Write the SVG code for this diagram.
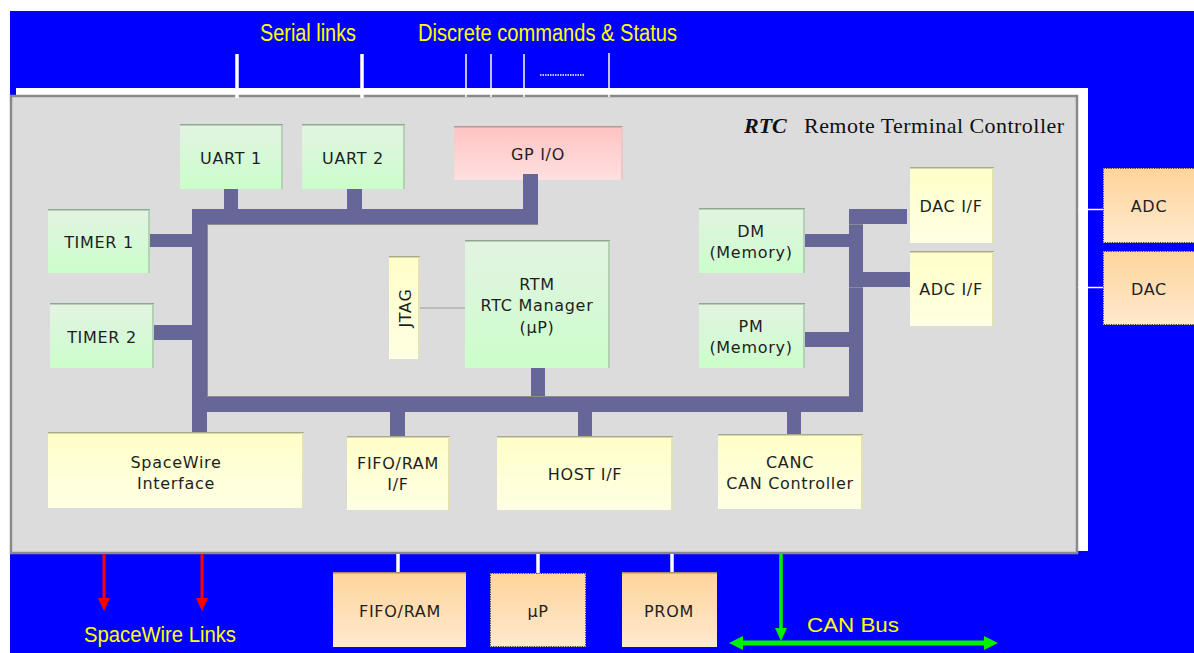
<svg xmlns="http://www.w3.org/2000/svg" width="1194" height="653" viewBox="0 0 1194 653">
  <defs>
    <linearGradient id="gG" x1="0" y1="0" x2="0" y2="1">
      <stop offset="0" stop-color="#E3F3E3"/>
      <stop offset="1" stop-color="#CBFECB"/>
    </linearGradient>
    <linearGradient id="gY" x1="0" y1="0" x2="0" y2="1">
      <stop offset="0" stop-color="#FFFFC8"/>
      <stop offset="1" stop-color="#FFFFE4"/>
    </linearGradient>
    <linearGradient id="gP" x1="0" y1="0" x2="0" y2="1">
      <stop offset="0" stop-color="#FFC2C2"/>
      <stop offset="1" stop-color="#FFE0E0"/>
    </linearGradient>
    <linearGradient id="gO" x1="0" y1="0" x2="0" y2="1">
      <stop offset="0" stop-color="#FFD49A"/>
      <stop offset="1" stop-color="#FFE9CE"/>
    </linearGradient>
    <marker id="arRed" markerUnits="userSpaceOnUse" markerWidth="14" markerHeight="12" refX="5" refY="6" orient="auto">
      <path d="M0,0 L13,6 L0,12 Z" fill="#FF0000"/>
    </marker>
    <marker id="arGreenV" markerUnits="userSpaceOnUse" markerWidth="14" markerHeight="12" refX="5" refY="6" orient="auto">
      <path d="M0,0 L13,6 L0,12 Z" fill="#00F000"/>
    </marker>
    <marker id="arGreenH" markerUnits="userSpaceOnUse" markerWidth="15" markerHeight="15" refX="6" refY="7" orient="auto-start-reverse">
      <path d="M0,0 L14,7 L0,14 Z" fill="#00F000"/>
    </marker>
    <style>
      .g{fill:url(#gG)}
      .y{fill:url(#gY)}
      .p{fill:url(#gP)}
      .o{fill:url(#gO)}
      .tg{stroke:#8FA88F;stroke-width:1.5;fill:none}
      .sg{stroke:#B3D2B3;stroke-width:2;fill:none}
      .ty{stroke:#ABAB8C;stroke-width:1.5;fill:none}
      .sy{stroke:#E2E2B4;stroke-width:2;fill:none}
      .tp{stroke:#B89A9A;stroke-width:1.5;fill:none}
      .sp{stroke:#EBC8C8;stroke-width:2;fill:none}
      .to{stroke:#A88C6C;stroke-width:1.5;fill:none}
      .dot{fill:none;stroke:#333;stroke-width:1;stroke-dasharray:1.2 1.2}
      .lbl{font-family:"DejaVu Sans",Verdana,sans-serif;font-size:16px;letter-spacing:0.7px;fill:#1E1E1E;text-anchor:middle}
      .yel{font-family:"Liberation Sans",Arial,sans-serif;fill:#FFFF00}
      .bus{fill:#666699}
      .bedge{stroke:#8C8C8C;stroke-width:1;fill:none}
      .wthick{stroke:#FFFFFF;stroke-width:3.5}
      .wthin{stroke:#FFFFFF;stroke-width:1.5}
    </style>
  </defs>

  <!-- background -->
  <rect x="0" y="0" width="1194" height="653" fill="#FFFFFF"/>
  <rect x="10" y="11" width="1184" height="642" fill="#0000FF"/>
  <rect x="16" y="88" width="1072" height="463" fill="#FFFFFF"/>
  <rect x="11" y="96" width="1066" height="457" fill="#DCDCDC" stroke="#8A8A8A" stroke-width="2.5"/>

  <!-- external labels -->
  <text class="yel" x="260" y="41" font-size="23" textLength="96" lengthAdjust="spacingAndGlyphs">Serial links</text>
  <text class="yel" x="418" y="41" font-size="23" textLength="259" lengthAdjust="spacingAndGlyphs">Discrete commands &amp; Status</text>
  <text class="yel" x="84" y="642" font-size="22" textLength="152" lengthAdjust="spacingAndGlyphs">SpaceWire Links</text>
  <text class="yel" x="807" y="632" font-size="21" textLength="92" lengthAdjust="spacingAndGlyphs">CAN Bus</text>

  <!-- title -->
  <text x="744" y="133" font-family="'Liberation Serif','Times New Roman',serif" font-size="22" fill="#111"><tspan font-weight="bold" font-style="italic">RTC</tspan></text>
  <text x="804" y="133" font-family="'Liberation Serif','Times New Roman',serif" font-size="22" fill="#111" textLength="260" lengthAdjust="spacing">Remote Terminal Controller</text>

  <!-- connectors -->
  <g id="connectors">
    <!-- top signal lines -->
    <line class="wthick" x1="237" y1="54" x2="237" y2="98"/>
    <line class="wthick" x1="362" y1="54" x2="362" y2="98"/>
    <line class="wthin" x1="466" y1="54" x2="466" y2="97"/>
    <line class="wthin" x1="491" y1="54" x2="491" y2="97"/>
    <line class="wthin" x1="524" y1="54" x2="524" y2="97"/>
    <line class="wthin" x1="609" y1="53" x2="609" y2="97"/>
    <line x1="540" y1="75" x2="584" y2="75" stroke="#FFFFFF" stroke-width="1.5" stroke-dasharray="1.5 1"/>
    <!-- ADC / DAC links -->
    <line class="wthin" x1="1078" y1="209.5" x2="1103" y2="209.5"/>
    <line class="wthin" x1="1078" y1="287.5" x2="1103" y2="287.5"/>
    <!-- bottom links -->
    <line class="wthick" x1="398" y1="554" x2="398" y2="573"/>
    <line class="wthick" x1="538" y1="554" x2="538" y2="574"/>
    <line class="wthick" x1="672" y1="554" x2="672" y2="573"/>
    <!-- SpaceWire links -->
    <line x1="104" y1="554" x2="104" y2="603" stroke="#FF0000" stroke-width="3" marker-end="url(#arRed)"/>
    <line x1="202" y1="554" x2="202" y2="603" stroke="#FF0000" stroke-width="3" marker-end="url(#arRed)"/>
    <!-- CAN bus -->
    <line x1="781" y1="554" x2="781" y2="633" stroke="#00F000" stroke-width="3.5" marker-end="url(#arGreenV)"/>
    <line x1="737" y1="643" x2="990" y2="643" stroke="#00F000" stroke-width="5" marker-start="url(#arGreenH)" marker-end="url(#arGreenH)"/>
    <!-- JTAG link -->
    <line x1="420" y1="308" x2="465" y2="308" stroke="#999999" stroke-width="1.2"/>

    <!-- internal bus -->
    <rect class="bus" x="192" y="209" width="346" height="15"/>
    <rect class="bus" x="523" y="174" width="15" height="50"/>
    <rect class="bus" x="224" y="188" width="14" height="21"/>
    <rect class="bus" x="347" y="188" width="15" height="21"/>
    <rect class="bus" x="192" y="209" width="15" height="225"/>
    <rect class="bus" x="150" y="234" width="42" height="13"/>
    <rect class="bus" x="153" y="325" width="39" height="15"/>
    <rect class="bus" x="207" y="397" width="656" height="15"/>
    <rect class="bus" x="531" y="367" width="14" height="30"/>
    <rect class="bus" x="390" y="412" width="15" height="25"/>
    <rect class="bus" x="578" y="412" width="14" height="25"/>
    <rect class="bus" x="787" y="412" width="14" height="23"/>
    <rect class="bus" x="849" y="209" width="14" height="203"/>
    <rect class="bus" x="849" y="209" width="58" height="15"/>
    <rect class="bus" x="804" y="234" width="45" height="13"/>
    <rect class="bus" x="849" y="272" width="62" height="15"/>
    <rect class="bus" x="804" y="332" width="45" height="15"/>
    <path class="bedge" d="M207,224.5 H538 M207.5,224 V397 M207,396.5 H849 M849,287.5 H863 M849,224.5 H863"/>
  </g>

  <!-- nodes -->
  <g id="uart1">
    <rect class="g" x="180" y="124" width="103" height="65"/>
    <path class="tg" d="M180,124.75 H283"/><path class="sg" d="M282,125 V189"/>
    <text class="lbl" x="231" y="164">UART 1</text>
  </g>
  <g id="uart2">
    <rect class="g" x="302" y="124" width="103" height="65"/>
    <path class="tg" d="M302,124.75 H405"/><path class="sg" d="M404,125 V189"/>
    <text class="lbl" x="353" y="164">UART 2</text>
  </g>
  <g id="gpio">
    <rect class="p" x="454" y="126" width="169" height="54"/>
    <path class="tp" d="M454,126.75 H623"/><path class="sp" d="M622,127 V180"/>
    <text class="lbl" x="538" y="160">GP I/O</text>
  </g>
  <!-- redraw GP stub over box edge -->
  <rect class="bus" x="523" y="174" width="15" height="6"/>
  <g id="timer1">
    <rect class="g" x="48" y="209" width="102" height="64"/>
    <path class="tg" d="M48,209.75 H150"/><path class="sg" d="M149,210 V273"/>
    <text class="lbl" x="99" y="248">TIMER 1</text>
  </g>
  <g id="timer2">
    <rect class="g" x="50" y="303" width="104" height="65"/>
    <path class="tg" d="M50,303.75 H154"/><path class="sg" d="M153,304 V368"/>
    <text class="lbl" x="102" y="343">TIMER 2</text>
  </g>
  <g id="jtag">
    <rect class="y" x="389" y="256" width="31" height="103"/>
    <path class="ty" d="M389,256.75 H420"/><path class="sy" d="M419,257 V359"/>
    <text class="lbl" x="405" y="313.5" transform="rotate(-90 405 308)">JTAG</text>
  </g>
  <g id="rtm">
    <rect class="g" x="465" y="240" width="145" height="128"/>
    <path class="tg" d="M465,240.75 H610"/><path class="sg" d="M609,241 V368"/>
    <text class="lbl" x="537" y="290">RTM</text>
    <text class="lbl" x="537" y="311">RTC Manager</text>
    <text class="lbl" x="537" y="333">(μP)</text>
  </g>
  <g id="dm">
    <rect class="g" x="699" y="208" width="106" height="65"/>
    <path class="tg" d="M699,208.75 H805"/><path class="sg" d="M804,209 V273"/>
    <text class="lbl" x="751" y="237">DM</text>
    <text class="lbl" x="751" y="258">(Memory)</text>
  </g>
  <g id="pm">
    <rect class="g" x="699" y="303" width="106" height="65"/>
    <path class="tg" d="M699,303.75 H805"/><path class="sg" d="M804,304 V368"/>
    <text class="lbl" x="751" y="332">PM</text>
    <text class="lbl" x="751" y="353">(Memory)</text>
  </g>
  <g id="dacif">
    <rect class="y" x="910" y="167" width="84" height="76"/>
    <path class="ty" d="M910,167.75 H994"/><path class="sy" d="M993,168 V243"/>
    <text class="lbl" x="951" y="212">DAC I/F</text>
  </g>
  <g id="adcif">
    <rect class="y" x="910" y="251" width="84" height="75"/>
    <path class="ty" d="M910,251.75 H994"/><path class="sy" d="M993,252 V326"/>
    <text class="lbl" x="951" y="295">ADC I/F</text>
  </g>
  <g id="spacewire">
    <rect class="y" x="48" y="432" width="256" height="76"/>
    <path class="ty" d="M48,432.75 H304"/><path class="sy" d="M303,433 V508"/>
    <text class="lbl" x="176" y="468">SpaceWire</text>
    <text class="lbl" x="176" y="489">Interface</text>
  </g>
  <g id="fifoif">
    <rect class="y" x="347" y="436" width="103" height="74"/>
    <path class="ty" d="M347,436.75 H450"/><path class="sy" d="M449,437 V510"/>
    <text class="lbl" x="398" y="469">FIFO/RAM</text>
    <text class="lbl" x="398" y="490">I/F</text>
  </g>
  <g id="hostif">
    <rect class="y" x="497" y="436" width="176" height="74"/>
    <path class="ty" d="M497,436.75 H673"/><path class="sy" d="M672,437 V510"/>
    <text class="lbl" x="585" y="480">HOST I/F</text>
  </g>
  <g id="canc">
    <rect class="y" x="718" y="434" width="145" height="75"/>
    <path class="ty" d="M718,434.75 H863"/><path class="sy" d="M862,435 V509"/>
    <text class="lbl" x="790" y="468">CANC</text>
    <text class="lbl" x="790" y="489">CAN Controller</text>
  </g>
  <g id="adc">
    <rect class="o" x="1103" y="168" width="95" height="75"/>
    <rect class="dot" x="1103.5" y="168.5" width="95" height="74"/>
    <text class="lbl" x="1149" y="212">ADC</text>
  </g>
  <g id="dac">
    <rect class="o" x="1103" y="251" width="95" height="74"/>
    <rect class="dot" x="1103.5" y="251.5" width="95" height="73"/>
    <text class="lbl" x="1149" y="295">DAC</text>
  </g>
  <g id="fiforam">
    <rect class="o" x="333" y="572" width="133" height="75"/>
    <path class="to" d="M333,572.75 H466"/>
    <text class="lbl" x="400" y="617">FIFO/RAM</text>
  </g>
  <g id="up">
    <rect class="o" x="490" y="573" width="96" height="74"/>
    <rect class="dot" x="490.5" y="573.5" width="95" height="73"/>
    <text class="lbl" x="538" y="617">μP</text>
  </g>
  <g id="prom">
    <rect class="o" x="622" y="572" width="95" height="75"/>
    <path class="to" d="M622,572.75 H717"/>
    <text class="lbl" x="669" y="617">PROM</text>
  </g>
</svg>
